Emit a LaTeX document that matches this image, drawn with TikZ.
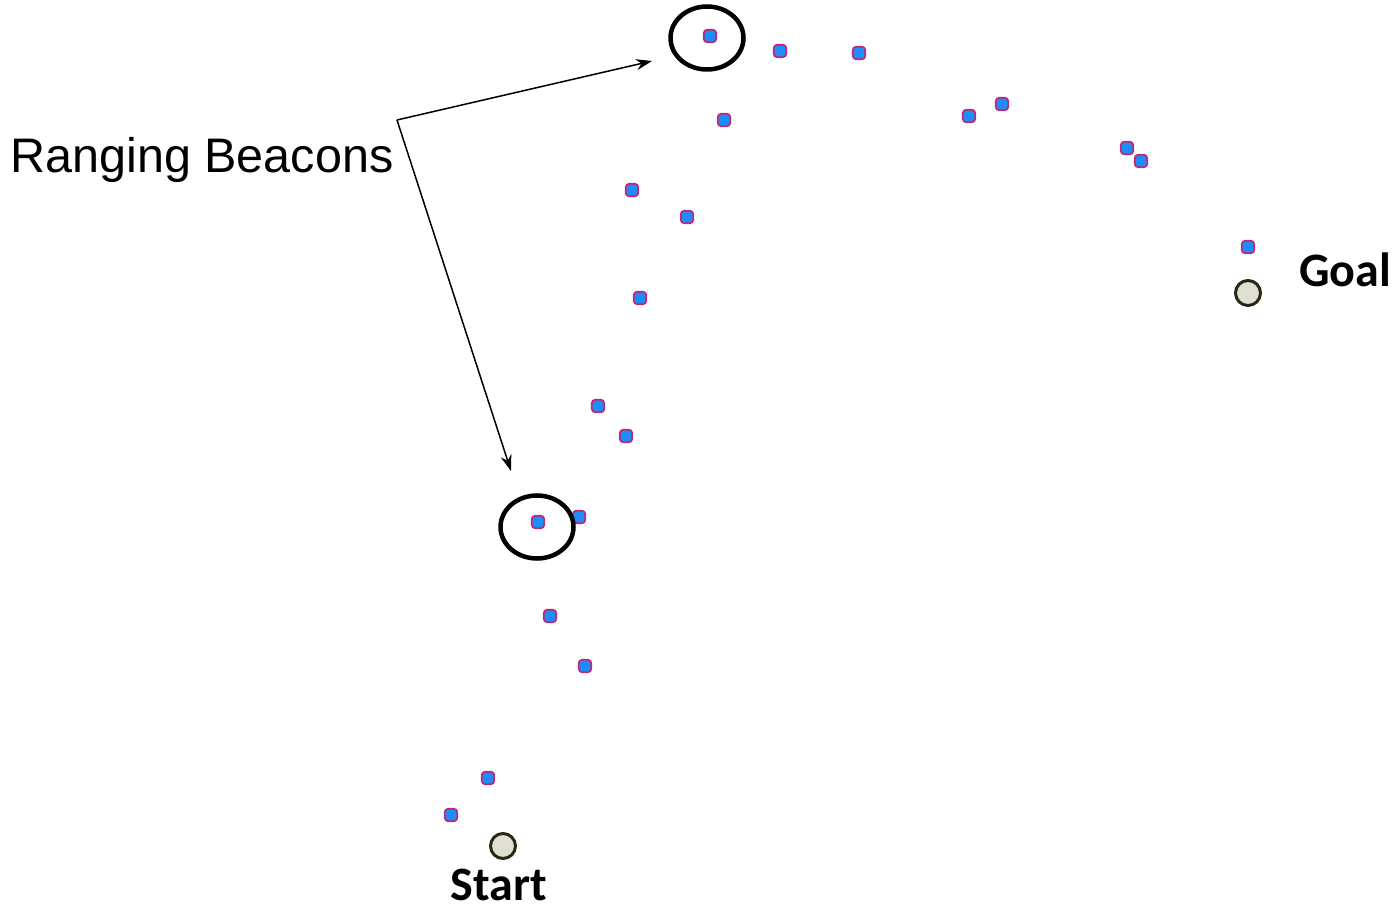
\documentclass[tikz,border=0pt]{standalone}
\usepackage{fontspec}
\setmainfont{Liberation Sans}
\newfontfamily\calfont{Carlito}
\usetikzlibrary{arrows.meta,shapes.geometric}
\definecolor{beaconblue}{RGB}{30,140,250}
\definecolor{beaconedge}{RGB}{190,40,120}
\definecolor{endfill}{RGB}{222,222,210}
\definecolor{endedge}{RGB}{40,40,20}
\tikzset{
  beacon/.style={rectangle, rounded corners=3.5pt, minimum size=12.5pt, inner sep=0pt, fill=beaconblue, draw=beaconedge, line width=1.8pt},
  endpt/.style={circle, minimum size=25pt, inner sep=0pt, fill=endfill, draw=endedge, line width=3pt},
  ring/.style={ellipse, draw=black, line width=4.5pt, minimum width=73pt, minimum height=63pt, inner sep=0pt},
  lbl/.style={font=\calfont\bfseries\fontsize{48}{52}\selectfont, inner sep=0pt},
  pointer/.style={line width=1.5pt, -{Stealth[length=16pt,width=11pt]}}
}
\begin{document}
\begin{tikzpicture}[x=1pt,y=-1pt]
\useasboundingbox (0,0) rectangle (1395,909);
\fill[white] (0,0) rectangle (1395,909);
% beacons
\node[beacon] (b1) at (710,36) {};
\node[beacon] (b2) at (780,51) {};
\node[beacon] (b3) at (859,53) {};
\node[beacon] (b4) at (724,120) {};
\node[beacon] (b5) at (969,116) {};
\node[beacon] (b6) at (1002,104) {};
\node[beacon] (b7) at (1127,148) {};
\node[beacon] (b8) at (1141,161) {};
\node[beacon] (b9) at (632,190) {};
\node[beacon] (b10) at (687,217) {};
\node[beacon] (b11) at (1248,247) {};
\node[beacon] (b12) at (640,298) {};
\node[beacon] (b13) at (598,406) {};
\node[beacon] (b14) at (626,436) {};
\node[beacon] (b15) at (538,522) {};
\node[beacon] (b16) at (579,517) {};
\node[beacon] (b17) at (550,616) {};
\node[beacon] (b18) at (585,666) {};
\node[beacon] (b19) at (488,778) {};
\node[beacon] (b20) at (451,815) {};
% start / goal
\node[endpt] (start) at (503,846) {};
\node[endpt] (goal) at (1248,293) {};
\node[lbl] (startlbl) at (499,885) {Start};
\node[lbl] (goallbl) at (1345,270) {Goal};
% rings
\node[ring] (ring1) at (707,38) {};
\node[ring] (ring2) at (537,527) {};
% label and pointers
\node[font=\fontsize{48.5}{52}\selectfont, inner sep=0pt] (rb) at (202,160) {Ranging Beacons};
\coordinate (src) at (397,120);
\coordinate (tip1) at (652,61);
\coordinate (tip2) at (511,471);
\draw[pointer] (src) -- (tip1);
\draw[pointer] (src) -- (tip2);
\end{tikzpicture}
\end{document}
